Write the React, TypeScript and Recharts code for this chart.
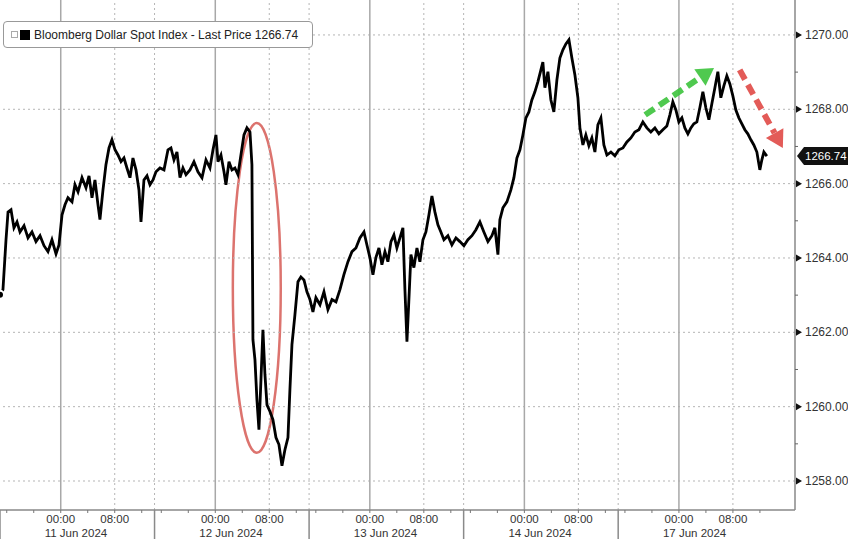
import { LineChart, Line, XAxis, YAxis, ReferenceLine, ReferenceArea, ReferenceDot } from 'recharts'

// trading hours since the 11 Jun session opened (15:00 on 10 Jun); each session is ~22.9h on the axis
const hours = [
  0, 0.44, 0.89, 1.19, 1.63, 2.07, 2.52, 2.96, 3.56, 4.15,
  4.74, 5.33, 5.93, 6.52, 7.11, 7.7, 8.3, 8.74, 9.19, 9.63,
  10.07, 10.67, 11.11, 11.56, 12.15, 12.74, 13.19, 13.63, 14.07, 14.52,
  14.81, 15.26, 15.7, 16.15, 16.59, 17.04, 17.48, 17.93, 18.37, 18.81,
  19.26, 19.7, 20.15, 20.59, 20.89, 21.33, 21.78, 22.22, 22.67, 23.11,
  23.7, 24.3, 24.89, 25.33, 25.78, 26.22, 26.67, 27.11, 27.56, 28.15,
  28.74, 29.33, 29.93, 30.52, 31.11, 31.56, 32.0, 32.3, 32.74, 33.19,
  33.48, 33.93, 34.37, 34.81, 35.26, 35.7, 36.15, 36.59, 37.04, 37.33,
  37.48, 37.78, 38.07, 38.37, 38.67, 38.96, 39.26, 39.56, 40.0, 40.44,
  40.89, 41.33, 41.78, 42.22, 42.67, 42.96, 43.26, 43.7, 44.15, 44.59,
  45.04, 45.48, 45.93, 46.37, 46.81, 47.41, 48.0, 48.59, 49.19, 49.78,
  50.37, 50.96, 51.56, 52.15, 52.74, 53.33, 53.93, 54.37, 54.81, 55.26,
  55.7, 56.15, 56.59, 57.04, 57.48, 57.93, 58.37, 58.81, 59.26, 59.7,
  60.0, 60.3, 60.59, 60.89, 61.33, 61.78, 62.22, 62.67, 63.11, 63.56,
  64.0, 64.44, 64.89, 65.33, 65.78, 66.37, 66.96, 67.56, 68.15, 68.74,
  69.33, 69.93, 70.52, 71.11, 71.7, 72.3, 72.89, 73.33, 73.78, 74.07,
  74.52, 75.11, 75.7, 76.15, 76.59, 77.04, 77.48, 77.93, 78.37, 78.81,
  79.26, 79.7, 80.15, 80.44, 80.74, 81.19, 81.63, 82.07, 82.52, 82.96,
  83.41, 83.85, 84.3, 84.74, 85.19, 85.63, 85.93, 86.37, 86.81, 87.26,
  87.7, 88.15, 88.59, 89.04, 89.48, 89.93, 90.52, 91.11, 91.7, 92.3,
  92.89, 93.48, 94.07, 94.67, 95.26, 95.85, 96.44, 97.04, 97.63, 98.22,
  98.81, 99.26, 99.7, 100.15, 100.59, 101.04, 101.48, 101.93, 102.37, 102.81,
  103.26, 103.7, 104.15, 104.59, 105.04, 105.48, 105.93, 106.37, 106.81, 107.26,
  107.7, 108.15, 108.59, 109.04, 109.48, 109.93, 110.37, 110.81, 111.26, 111.7,
  112.15, 112.59, 112.89, 113.19, 113.63,
]

const prices = [
  1263.01, 1263.15, 1264.49, 1265.24, 1265.3, 1264.81, 1264.97, 1264.7, 1264.87, 1264.54,
  1264.7, 1264.44, 1264.6, 1264.33, 1264.17, 1264.49, 1264.11, 1264.35, 1265.16, 1265.43,
  1265.62, 1265.51, 1265.97, 1265.78, 1266.16, 1265.89, 1266.21, 1265.62, 1266.1, 1265.43,
  1265.03, 1265.83, 1266.51, 1266.96, 1267.18, 1266.91, 1266.77, 1266.59, 1266.69, 1266.42,
  1266.16, 1266.69, 1266.37, 1265.83, 1264.97, 1266.1, 1266.21, 1265.97, 1266.1, 1266.32,
  1266.42, 1266.37, 1266.91, 1266.96, 1266.64, 1266.85, 1266.16, 1266.42, 1266.24, 1266.37,
  1266.59, 1266.32, 1266.16, 1266.64, 1266.42, 1266.91, 1267.31, 1266.59, 1266.77, 1266.32,
  1265.97, 1266.59, 1266.37, 1266.42, 1266.24, 1266.77, 1267.31, 1267.5, 1267.39, 1266.51,
  1261.8, 1261.26, 1260.19, 1259.38, 1260.73, 1262.07, 1260.86, 1260.05, 1259.87, 1259.65,
  1259.17, 1258.98, 1258.41, 1258.84, 1259.17, 1260.46, 1261.67, 1262.47, 1263.36, 1263.49,
  1263.41, 1263.09, 1262.88, 1262.55, 1262.93, 1262.74, 1263.09, 1262.61, 1262.88, 1262.82,
  1263.15, 1263.55, 1263.9, 1264.17, 1264.27, 1264.54, 1264.7, 1264.35, 1264.01, 1263.55,
  1264.01, 1264.27, 1263.82, 1264.17, 1263.9, 1264.44, 1264.62, 1264.27, 1264.54, 1264.81,
  1263.15, 1261.75, 1262.88, 1264.09, 1263.74, 1264.27, 1263.9, 1264.49, 1264.7, 1265.16,
  1265.67, 1265.24, 1264.89, 1264.7, 1264.49, 1264.6, 1264.35, 1264.54, 1264.44, 1264.33,
  1264.49, 1264.6, 1264.76, 1264.97, 1264.7, 1264.44, 1264.6, 1264.81, 1264.09, 1265.03,
  1265.35, 1265.51, 1265.83, 1266.16, 1266.69, 1266.91, 1267.31, 1267.77, 1267.93, 1268.25,
  1268.47, 1268.74, 1269.06, 1269.27, 1268.58, 1269.01, 1268.25, 1267.93, 1268.79, 1269.38,
  1269.6, 1269.76, 1269.87, 1269.38, 1268.92, 1268.31, 1267.5, 1267.04, 1267.31, 1267.02,
  1267.23, 1266.85, 1267.58, 1267.77, 1267.04, 1266.77, 1266.85, 1266.75, 1266.91, 1266.96,
  1267.12, 1267.23, 1267.39, 1267.45, 1267.66, 1267.5, 1267.39, 1267.5, 1267.34, 1267.45,
  1267.55, 1267.85, 1268.2, 1267.98, 1267.66, 1267.77, 1267.5, 1267.34, 1267.5, 1267.61,
  1267.66, 1268.04, 1268.47, 1268.04, 1267.72, 1268.15, 1268.58, 1269.01, 1268.31, 1268.63,
  1268.9, 1268.68, 1268.36, 1267.98, 1267.77, 1267.61, 1267.45, 1267.34, 1267.18, 1267.04,
  1266.85, 1266.37, 1266.64, 1266.85, 1266.74,
]

const dayLabels = ['11 Jun 2024', '12 Jun 2024', '13 Jun 2024', '14 Jun 2024', '17 Jun 2024']
// hours into a session for the 4h ticks: 16:00 20:00 00:00 04:00 08:00 12:00
const sessionTickHours = [1, 5, 9, 13, 17, 21]
const sessionTickLabels = ['16:00', '20:00', '00:00', '04:00', '08:00', '12:00']
const priceTicks = [1258, 1259, 1260, 1261, 1262, 1263, 1264, 1265, 1266, 1267, 1268, 1269, 1270]

const SERIES_NAME = 'Bloomberg Dollar Spot Index - Last Price'
const LAST_PRICE = 1266.74
const DAY_LEN = 22.9
const X_MAX = 117.8
const Y_MIN = 1257.22
const Y_MAX = 1270.94
const FONT = '"Liberation Sans", Arial, sans-serif'

const data = hours.map((h, i) => ({ h, price: prices[i] }))

type TickMeta = { kind: 'sep' | 'minor' | 'midnight' | 'morning'; label?: string; date?: string }
const tickMeta = new Map<string, TickMeta>()
const xTicks: number[] = []
dayLabels.forEach((date, d) => {
  const start = d * DAY_LEN
  xTicks.push(start)
  tickMeta.set(start.toFixed(2), { kind: 'sep' })
  sessionTickHours.forEach((o, j) => {
    const v = start + o
    const label = sessionTickLabels[j]
    xTicks.push(v)
    tickMeta.set(v.toFixed(2), {
      kind: label === '00:00' ? 'midnight' : label === '08:00' ? 'morning' : 'minor',
      label,
      date,
    })
  })
})

function TimeTick({ x, y, payload }: any) {
  const meta = tickMeta.get(Number(payload.value).toFixed(2))
  if (!meta) return null
  if (meta.kind === 'sep') {
    return <line x1={x} y1={y} x2={x} y2={y + 30} stroke="#8a8a8a" strokeWidth={1.5} />
  }
  return (
    <g>
      <line x1={x} y1={y} x2={x} y2={y + 3} stroke="#777" />
      {meta.kind !== 'minor' && (
        <text x={x} y={y + 13} textAnchor="middle" fontFamily={FONT} fontSize={11.5} fill="#333">
          {meta.label}
        </text>
      )}
      {meta.kind === 'midnight' && (
        <text x={x - 16} y={y + 27} fontFamily={FONT} fontSize={11.5} fill="#333">
          {meta.date}
        </text>
      )}
    </g>
  )
}

function PriceTick({ x, y, payload }: any) {
  const v = Number(payload.value)
  if (v % 2 !== 0) return <line x1={x} y1={y} x2={x + 3} y2={y} stroke="#666" />
  return (
    <g>
      <path d={`M${x + 1},${y - 3.5}L${x + 7},${y}L${x + 1},${y + 3.5}Z`} fill="#111" />
      <text x={x + 10} y={y + 4} fontFamily={FONT} fontSize={12} fill="#333">
        {v.toFixed(2)}
      </text>
    </g>
  )
}

function PriceTag({ cx, cy }: any) {
  return (
    <g>
      <path d={`M${cx + 2},${cy}L${cx + 9},${cy - 9}H${cx + 53}V${cy + 9}H${cx + 9}Z`} fill="#111" />
      <text x={cx + 10} y={cy + 4} fontFamily={FONT} fontSize={11.5} fill="#fff">
        {LAST_PRICE.toFixed(2)}
      </text>
    </g>
  )
}

function Ellipse({ x, y, width, height }: any) {
  return (
    <ellipse
      cx={x + width / 2}
      cy={y + height / 2}
      rx={width / 2}
      ry={height / 2}
      fill="none"
      stroke="#d65a55"
      strokeOpacity={0.85}
      strokeWidth={2.5}
    />
  )
}

function arrow(color: string) {
  return ({ x1, y1, x2, y2 }: any) => {
    const a = Math.atan2(y2 - y1, x2 - x1)
    const head = 17
    const half = 10
    const bx = x2 - head * Math.cos(a)
    const by = y2 - head * Math.sin(a)
    const px = -Math.sin(a)
    const py = Math.cos(a)
    return (
      <g opacity={0.9}>
        <line x1={x1} y1={y1} x2={bx} y2={by} stroke={color} strokeWidth={6} strokeDasharray="11 6" />
        <path d={`M${x2},${y2}L${bx + px * half},${by + py * half}L${bx - px * half},${by - py * half}Z`} fill={color} />
      </g>
    )
  }
}

const gridEven = priceTicks.filter((v) => v % 2 === 0)

export default function App() {
  return (
    <div style={{ position: 'absolute', left: 0, top: 0, width: 848, height: 539, background: '#fff', overflow: 'hidden' }}>
      <LineChart width={848} height={539} data={data} margin={{ top: 0, right: 0, bottom: 0, left: 0 }}>
        <XAxis
          dataKey="h"
          type="number"
          domain={[0, X_MAX]}
          ticks={xTicks}
          interval={0}
          height={29}
          tickSize={0}
          tickMargin={0}
          tickLine={false}
          axisLine={{ stroke: '#888', strokeWidth: 1.5 }}
          tick={<TimeTick />}
          allowDataOverflow
        />
        <YAxis
          orientation="right"
          type="number"
          domain={[Y_MIN, Y_MAX]}
          ticks={priceTicks}
          interval={0}
          width={53}
          tickSize={0}
          tickMargin={0}
          tickLine={false}
          axisLine={{ stroke: '#888', strokeWidth: 1.5 }}
          tick={<PriceTick />}
          allowDataOverflow
        />
        {gridEven.map((v) => (
          <ReferenceLine key={`h${v}`} y={v} stroke="#b5b5b5" strokeDasharray="2 3" />
        ))}
        {xTicks.map((v) => {
          const m = tickMeta.get(v.toFixed(2))
          if (!m || m.kind === 'minor' || v === 0) return null
          return m.kind === 'midnight' ? (
            <ReferenceLine key={`v${v}`} x={v} stroke="#a8a8a8" strokeWidth={1.5} />
          ) : (
            <ReferenceLine key={`v${v}`} x={v} stroke="#b5b5b5" strokeDasharray="2 3" />
          )
        })}
        <Line
          type="linear"
          dataKey="price"
          stroke="#000"
          strokeWidth={2.8}
          dot={false}
          isAnimationActive={false}
        />
        <ReferenceArea x1={34.5} x2={41.6} y1={1258.76} y2={1267.63} shape={<Ellipse />} ifOverflow="visible" />
        <ReferenceLine
          segment={[{ x: 95.6, y: 1267.85 }, { x: 105.8, y: 1269.11 }]}
          shape={arrow('#3cc43c')}
          ifOverflow="visible"
        />
        <ReferenceLine
          segment={[{ x: 109.6, y: 1269.06 }, { x: 116.0, y: 1266.96 }]}
          shape={arrow('#e04a46')}
          ifOverflow="visible"
        />
        <ReferenceDot x={X_MAX} y={LAST_PRICE} r={0} shape={<PriceTag />} ifOverflow="visible" />
      </LineChart>
      <div
        style={{
          position: 'absolute',
          left: 3,
          top: 21,
          width: 310,
          height: 27,
          boxSizing: 'border-box',
          border: '1px solid #999',
          borderRadius: 4,
          background: '#fff',
          display: 'flex',
          alignItems: 'center',
          fontFamily: FONT,
          fontSize: 12,
          color: '#222',
          whiteSpace: 'nowrap',
        }}
      >
        <span style={{ width: 5, height: 5, border: '1px solid #aaa', marginLeft: 7 }} />
        <span style={{ width: 10, height: 10, background: '#000', marginLeft: 2, marginRight: 4 }} />
        {SERIES_NAME} {LAST_PRICE.toFixed(2)}
      </div>
    </div>
  )
}
